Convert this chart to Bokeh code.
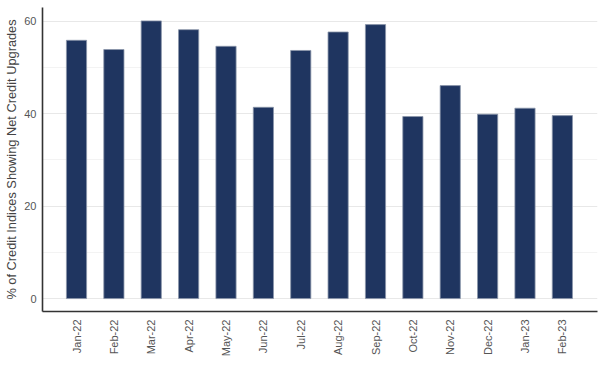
import math
from bokeh.plotting import figure
from bokeh.models import ColumnDataSource, FixedTicker, Range1d
from bokeh.embed import file_html
from bokeh.resources import INLINE

months = ["Jan-22", "Feb-22", "Mar-22", "Apr-22", "May-22", "Jun-22", "Jul-22",
          "Aug-22", "Sep-22", "Oct-22", "Nov-22", "Dec-22", "Jan-23", "Feb-23"]
values = [55.9, 53.9, 60.1, 58.2, 54.6, 41.4, 53.7, 57.7, 59.3, 39.4, 46.1, 39.9, 41.2, 39.6]
y_ticks = [0, 20, 40, 60]
y_minor = [10, 30, 50]

idx = list(range(len(months)))
src = ColumnDataSource(dict(x=idx, top=values))

p = figure(width=605, height=378, output_backend="svg", toolbar_location=None,
           x_range=Range1d(-0.91, 13.94), y_range=Range1d(-2.8, 63))
p.min_border_left = 42
p.min_border_right = 8
p.min_border_top = 7
p.min_border_bottom = 67
p.outline_line_color = None
p.background_fill_color = "white"

p.vbar(x="x", top="top", bottom=0, width=0.54, source=src,
       fill_color="#1f3560", line_color="#8a96aa", line_width=0.8)

p.xaxis.ticker = FixedTicker(ticks=idx)
p.xaxis.major_label_overrides = {i: m for i, m in enumerate(months)}
p.xaxis.major_label_orientation = math.pi / 2
p.yaxis.ticker = FixedTicker(ticks=y_ticks, minor_ticks=y_minor)

for ax in (p.xaxis, p.yaxis):
    ax.axis_line_color = "#333333"
    ax.axis_line_width = 1.6
    ax.major_tick_line_color = None
    ax.minor_tick_line_color = None
    ax.major_tick_out = 0
    ax.major_tick_in = 0
    ax.minor_tick_out = 0
    ax.minor_tick_in = 0
    ax.major_label_text_font = "Liberation Sans"
    ax.major_label_text_font_size = "11px"
    ax.major_label_text_color = "#555555"

p.xaxis.major_label_standoff = 8
p.yaxis.major_label_standoff = 6
p.yaxis.axis_label = "% of Credit Indices Showing Net Credit Upgrades"
p.yaxis.axis_label_text_font = "Liberation Sans"
p.yaxis.axis_label_text_font_size = "12.8px"
p.yaxis.axis_label_text_font_style = "normal"
p.yaxis.axis_label_text_color = "#444444"
p.yaxis.axis_label_standoff = 2

p.xgrid.grid_line_color = None
p.ygrid.grid_line_color = "#e8e8e8"
p.ygrid.minor_grid_line_color = "#f3f3f3"

open("out.html", "w").write(file_html(p, INLINE))
